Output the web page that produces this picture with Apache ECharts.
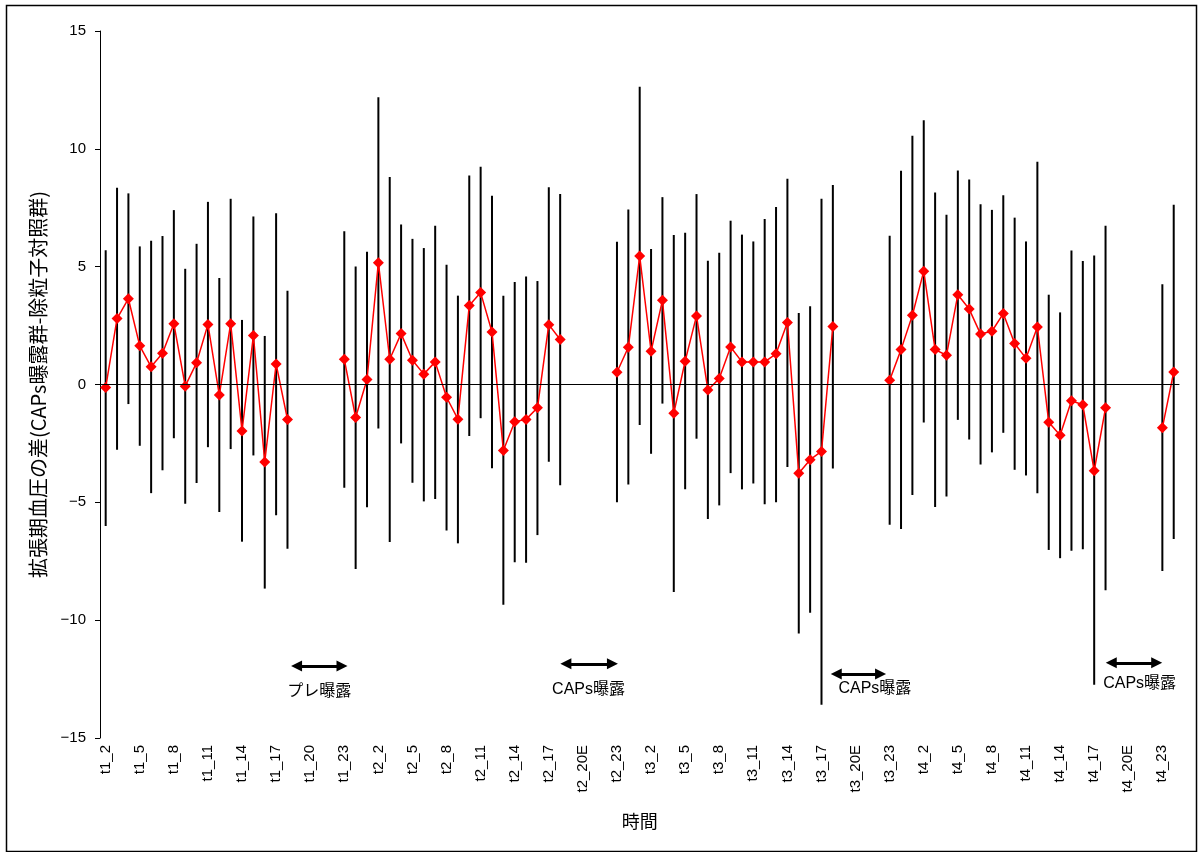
<!DOCTYPE html>
<html>
<head>
<meta charset="utf-8">
<script src="https://cdn.jsdelivr.net/npm/echarts@6/dist/echarts.min.js"></script>
<style>
html,body{margin:0;padding:0;background:#fff;}
#chart{width:1198px;height:852px;}
</style>
</head>
<body>
<div id="chart"></div>
<script>
// ---- categories (time points) ----
var categories = [
 't1_2','t1_3','t1_4','t1_5','t1_6','t1_7','t1_8','t1_9','t1_10','t1_11','t1_12','t1_13','t1_14','t1_15','t1_16','t1_17','t1_18','t1_19','t1_20','t1_21','t1_22','t1_23','t1_24',
 't2_1','t2_2','t2_3','t2_4','t2_5','t2_6','t2_7','t2_8','t2_9','t2_10','t2_11','t2_12','t2_13','t2_14','t2_15','t2_16','t2_17','t2_18','t2_19','t2_20E','t2_21','t2_22','t2_23','t2_24',
 't3_1','t3_2','t3_3','t3_4','t3_5','t3_6','t3_7','t3_8','t3_9','t3_10','t3_11','t3_12','t3_13','t3_14','t3_15','t3_16','t3_17','t3_18','t3_19','t3_20E','t3_21','t3_22','t3_23','t3_24',
 't4_1','t4_2','t4_3','t4_4','t4_5','t4_6','t4_7','t4_8','t4_9','t4_10','t4_11','t4_12','t4_13','t4_14','t4_15','t4_16','t4_17','t4_18','t4_19','t4_20E','t4_21','t4_22','t4_23','t4_24'
];

// ---- mean difference ----
var means = [
 -0.13, 2.80, 3.64, 1.64, 0.75, 1.33, 2.58, -0.07, 0.92, 2.55, -0.45, 2.58, -1.97, 2.08, -3.29, 0.87, -1.48,
 null, null, null, null,
 1.07, -1.40, 0.21, 5.17, 1.07, 2.16, 1.03, 0.44, 0.96, -0.54, -1.47, 3.35, 3.90, 2.23, -2.80, -1.58, -1.48, -0.99, 2.54, 1.91,
 null, null, null, null,
 0.52, 1.58, 5.45, 1.41, 3.57, -1.22, 0.99, 2.91, -0.23, 0.25, 1.59, 0.96, 0.96, 0.96, 1.30, 2.63, -3.77, -3.19, -2.84, 2.46,
 null, null, null, null,
 0.18, 1.48, 2.94, 4.81, 1.48, 1.24, 3.81, 3.20, 2.14, 2.26, 3.01, 1.74, 1.11, 2.44, -1.60, -2.15, -0.69, -0.86, -3.66, -0.99,
 null, null, null, null,
 -1.84, 0.53
];

// ---- upper limits ----
var upper = [
 5.70, 8.35, 8.11, 5.86, 6.10, 6.30, 7.40, 4.91, 5.97, 7.75, 4.52, 7.88, 2.74, 7.13, 2.06, 7.27, 3.98,
 null, null, null, null,
 6.50, 5.01, 5.63, 12.19, 8.80, 6.79, 6.18, 5.79, 6.74, 5.08, 3.77, 8.87, 9.24, 8.01, 3.77, 4.35, 4.58, 4.39, 8.37, 8.08,
 null, null, null, null,
 6.06, 7.43, 12.63, 5.75, 7.95, 6.34, 6.44, 8.08, 5.25, 5.59, 6.95, 6.36, 6.07, 7.02, 7.53, 8.73, 3.03, 3.32, 7.88, 8.47,
 null, null, null, null,
 6.31, 9.07, 10.56, 11.21, 8.15, 7.20, 9.08, 8.70, 7.65, 7.41, 8.03, 7.08, 6.07, 9.45, 3.81, 3.06, 5.69, 5.24, 5.47, 6.74,
 null, null, null, null,
 4.25, 7.63
];

// ---- lower limits ----
var lower = [
 -6.00, -2.77, -0.83, -2.60, -4.61, -3.64, -2.28, -5.06, -4.18, -2.66, -5.41, -2.74, -6.67, -3.01, -8.66, -5.55, -6.97,
 null, null, null, null,
 -4.38, -7.83, -5.21, -1.87, -6.68, -2.50, -4.17, -4.96, -4.86, -6.20, -6.74, -2.19, -1.43, -3.55, -9.35, -7.54, -7.56, -6.39, -3.28, -4.28,
 null, null, null, null,
 -5.00, -4.24, -1.72, -2.94, -0.81, -8.80, -4.45, -2.30, -5.71, -5.13, -3.76, -4.45, -4.20, -5.08, -5.00, -3.50, -10.57, -9.69, -13.59, -3.56,
 null, null, null, null,
 -5.95, -6.13, -4.69, -1.61, -5.20, -4.75, -1.50, -2.33, -3.39, -2.88, -2.05, -3.62, -3.86, -4.61, -7.02, -7.37, -7.05, -6.99, -12.74, -8.73,
 null, null, null, null,
 -7.91, -6.56
];

// ---- y-axis ticks ----
var yTicks = [-15, -10, -5, 0, 5, 10, 15];

// ---- exposure period annotations (in category-index / value units) ----
var periodLabels = ['プレ曝露', 'CAPs曝露', 'CAPs曝露', 'CAPs曝露'];
var arrowFrom = [16.8, 40.5, 64.3, 88.5];
var arrowTo   = [20.8, 44.6, 68.2, 92.5];
var arrowY    = [-11.94, -11.85, -12.28, -11.81];
var labelX    = [18.8, 42.5, 67.7, 91.0];
var labelY    = [-13.03, -12.95, -12.9, -12.69];

var FONT = "'Liberation Sans','Noto Sans CJK JP',sans-serif";

var errData = [];
for (var i = 0; i < categories.length; i++) {
  if (upper[i] != null && lower[i] != null) errData.push([i, lower[i], upper[i]]);
}
var arrowLines = [];
for (var k = 0; k < periodLabels.length; k++) {
  arrowLines.push([{coord: [arrowFrom[k], arrowY[k]]}, {coord: [arrowTo[k], arrowY[k]]}]);
}
var labelData = [];
for (var k2 = 0; k2 < periodLabels.length; k2++) {
  labelData.push({value: [labelX[k2], labelY[k2]], name: periodLabels[k2]});
}

var chart = echarts.init(document.getElementById('chart'), null, {renderer: 'canvas'});
chart.setOption({
  animation: false,
  backgroundColor: '#fff',
  textStyle: {fontFamily: FONT},
  graphic: [{
    type: 'rect', left: 4, top: 3, silent: true,
    shape: {width: 1190, height: 846},
    style: {fill: 'none', stroke: '#000', lineWidth: 1.5}
  }],
  grid: {left: 100, right: 18.6, top: 31, bottom: 114, containLabel: false, outerBoundsMode: 'none'},
  xAxis: [{
    type: 'category',
    data: categories,
    boundaryGap: true,
    axisLine: {show: false},
    axisTick: {show: false},
    splitLine: {show: false},
    axisLabel: {interval: 2, rotate: 90, fontSize: 15, color: '#000', margin: 7, fontFamily: FONT},
    name: '時間',
    nameLocation: 'middle',
    nameGap: 74,
    nameTextStyle: {fontSize: 18, color: '#000', fontFamily: "'Noto Sans CJK JP',sans-serif"}
  }, {
    type: 'value', show: false, min: -0.5, max: categories.length - 0.5
  }],
  yAxis: {
    type: 'value',
    min: yTicks[0], max: yTicks[yTicks.length - 1], interval: 5,
    axisLine: {show: true, onZero: false, lineStyle: {color: '#000', width: 1}},
    axisTick: {show: true, length: 5, lineStyle: {color: '#000'}},
    splitLine: {show: false},
    axisLabel: {fontSize: 15, color: '#000', margin: 14,
      formatter: function (v) { return String(v).replace('-', '\u2212'); }},
    name: '拡張期血圧の差(CAPs曝露群-除粒子対照群)',
    nameLocation: 'middle',
    nameGap: 52,
    nameTextStyle: {fontSize: 20, color: '#000', fontFamily: "'Noto Sans CJK JP',sans-serif"}
  },
  series: [{
    type: 'custom',
    name: 'range',
    silent: true,
    xAxisIndex: 0,
    data: errData,
    renderItem: function (params, api) {
      var p1 = api.coord([api.value(0), api.value(1)]);
      var p2 = api.coord([api.value(0), api.value(2)]);
      return {type: 'line', shape: {x1: p1[0], y1: p1[1], x2: p2[0], y2: p2[1]},
              style: {stroke: '#000', lineWidth: 2}};
    },
    z: 2
  }, {
    type: 'line',
    name: 'mean',
    data: means,
    connectNulls: false,
    showSymbol: true,
    showAllSymbol: true,
    symbol: 'diamond',
    symbolSize: 11,
    itemStyle: {color: '#ff0000'},
    lineStyle: {color: '#ff0000', width: 1.5},
    z: 3,
    markLine: {
      silent: true, symbol: 'none', animation: false,
      label: {show: false},
      lineStyle: {color: '#000', width: 1, type: 'solid'},
      data: [{yAxis: 0}]
    }
  }, {
    type: 'line',
    name: 'arrows',
    xAxisIndex: 1,
    data: [],
    markLine: {
      silent: true, animation: false,
      symbol: ['triangle', 'triangle'],
      symbolSize: [11, 11],
      label: {show: false},
      lineStyle: {color: '#000', width: 3, type: 'solid'},
      data: arrowLines
    }
  }, {
    type: 'custom',
    name: 'labels',
    xAxisIndex: 1,
    silent: true,
    data: labelData,
    renderItem: function (params, api) {
      var p = api.coord([api.value(0), api.value(1)]);
      return {type: 'text', x: p[0], y: p[1],
        style: {text: periodLabels[params.dataIndex], textAlign: 'center', textVerticalAlign: 'middle',
                fill: '#000', font: "16px 'Liberation Sans','Noto Sans CJK JP',sans-serif"}};
    }
  }]
});
</script>
</body>
</html>
